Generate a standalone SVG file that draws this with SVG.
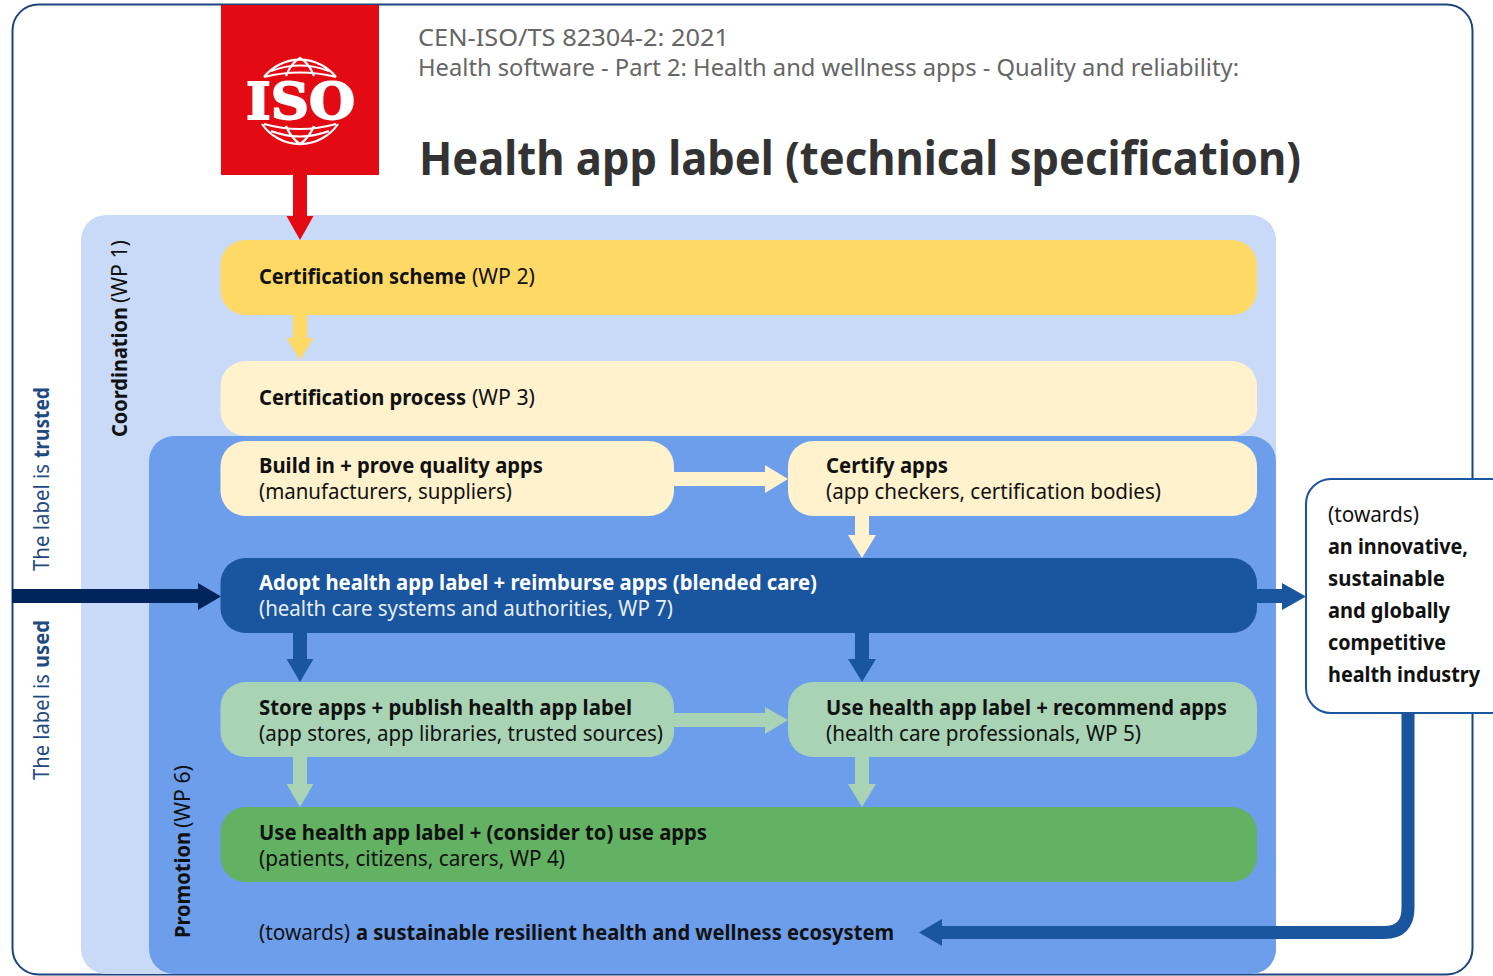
<svg xmlns="http://www.w3.org/2000/svg" width="1493" height="976" viewBox="0 0 1493 976">
<style>
text{font-family:"Noto Sans","Liberation Sans",sans-serif;font-size:21px;fill:#111}
.b{font-weight:700;font-size:20.500px}
.w{fill:#fff}
.w2{fill:#e8eef8}
.g{fill:#666;font-size:23.500px}
.s{fill:#1f4a80}
</style>
<rect width="1493" height="976" fill="#fff"/>
<rect id="frame" x="12.500" y="4.500" width="1460" height="970" rx="26" fill="#fff" stroke="#1c4480" stroke-width="2"/>
<g id="wp1-panel"><rect x="81" y="215" width="1195" height="759" rx="25" fill="#c9daf8"/>
<text transform="translate(127 437) rotate(-90)"><tspan class="b" x="0" y="0" textLength="130" lengthAdjust="spacingAndGlyphs">Coordination</tspan><tspan x="134" y="0" textLength="63" lengthAdjust="spacingAndGlyphs">(WP 1)</tspan></text></g>
<g id="wp6-panel"><rect x="149" y="436" width="1127" height="538" rx="25" fill="#6d9eeb"/>
<text transform="translate(190 938) rotate(-90)"><tspan class="b" x="0" y="0" textLength="106" lengthAdjust="spacingAndGlyphs">Promotion</tspan><tspan x="110" y="0" textLength="63" lengthAdjust="spacingAndGlyphs">(WP 6)</tspan></text></g>
<g id="connectors">
<polygon fill="#e30a13" points="293,175 307,175 307,216 313.500,216 300,240 286.500,216 293,216"/>
<polygon fill="#ffd966" points="293,315 307,315 307,338 313.500,338 300,360 286.500,338 293,338"/>
<polygon fill="#fff2cc" points="674,472 765,472 765,465 788,479 765,493 765,486 674,486"/>
<polygon fill="#fff2cc" points="855,516 869,516 869,535 876,535 862,558 848,535 855,535"/>
<polygon fill="#00245c" points="12,589 198,589 198,583 221,596.500 198,610 198,603 12,603"/>
<polygon fill="#1a559f" points="293,633 307,633 307,659 313.500,659 300,682 286.500,659 293,659"/>
<polygon fill="#1a559f" points="855,633 869,633 869,659 876,659 862,682 848,659 855,659"/>
<polygon fill="#1a559f" points="1257,589 1282,589 1282,583 1306,596.500 1282,610 1282,603 1257,603"/>
<polygon fill="#a8d4b5" points="674,713 765,713 765,707 788,720 765,734 765,727 674,727"/>
<polygon fill="#a8d4b5" points="293,757 307,757 307,784 313.500,784 300,807 286.500,784 293,784"/>
<polygon fill="#a8d4b5" points="855,757 869,757 869,784 876,784 862,807 848,784 855,784"/>
<path d="M1408 713V908Q1408 932.500 1384 932.500H940" fill="none" stroke="#1a559f" stroke-width="13"/>
<polygon fill="#1a559f" points="919,932.500 942,919 942,946"/>
</g>
<g id="iso-logo"><rect x="221" y="5" width="158" height="170" fill="#e30a13"/>
<g fill="none" stroke="#fff" stroke-width="2.200">
<path d="M264 77A46 46 0 0 1 336 77M271 71Q300 60 329 71M286 76Q291 63 300 58Q309 63 314 76M262 124A46 46 0 0 0 338 124M271 131Q300 142 329 131M286 126Q291 138 300 144Q309 138 314 126M264 77Q300 68 336 77M264 124Q300 134 336 124" /></g>
<text class="w" x="246" y="119" stroke="#fff" stroke-width="1.800" style="font-family:'DejaVu Serif',serif;font-size:50px;font-weight:700" textLength="109" lengthAdjust="spacingAndGlyphs">ISO</text></g>
<g id="heading">
<text class="g"><tspan x="418" y="45.500" textLength="311" lengthAdjust="spacingAndGlyphs">CEN-ISO/TS 82304-2: 2021</tspan><tspan x="418" y="75.500" textLength="821" lengthAdjust="spacingAndGlyphs">Health software - Part 2: Health and wellness apps - Quality and reliability:</tspan></text>
<text x="419" y="175" style="font-size:46px;font-weight:700;fill:#333" textLength="882" lengthAdjust="spacingAndGlyphs">Health app label (technical specification)</text>
</g>
<g id="scheme"><rect x="220.500" y="240" width="1036.500" height="75" rx="25" fill="#ffd966"/>
<text y="284"><tspan class="b" x="259" textLength="207" lengthAdjust="spacingAndGlyphs">Certification scheme</tspan><tspan x="472" textLength="63" lengthAdjust="spacingAndGlyphs">(WP 2)</tspan></text></g>
<g id="process"><rect x="220.500" y="361" width="1036.500" height="75" rx="25" fill="#fff2cc"/>
<text y="405"><tspan class="b" x="259" textLength="207" lengthAdjust="spacingAndGlyphs">Certification process</tspan><tspan x="472" textLength="63" lengthAdjust="spacingAndGlyphs">(WP 3)</tspan></text></g>
<g id="build"><rect x="220.500" y="441" width="453.500" height="75" rx="25" fill="#fff2cc"/>
<text><tspan class="b" x="259" y="472.500" textLength="284" lengthAdjust="spacingAndGlyphs">Build in + prove quality apps</tspan><tspan x="259" y="498.500" textLength="253" lengthAdjust="spacingAndGlyphs">(manufacturers, suppliers)</tspan></text></g>
<g id="certify"><rect x="788" y="441" width="469" height="75" rx="25" fill="#fff2cc"/>
<text><tspan class="b" x="826" y="472.500" textLength="122" lengthAdjust="spacingAndGlyphs">Certify apps</tspan><tspan x="826" y="498.500" textLength="335" lengthAdjust="spacingAndGlyphs">(app checkers, certification bodies)</tspan></text></g>
<g id="adopt"><rect x="220.500" y="558" width="1036.500" height="75" rx="25" fill="#1a559f"/>
<text><tspan class="b w" x="259" y="590" textLength="558" lengthAdjust="spacingAndGlyphs">Adopt health app label + reimburse apps (blended care)</tspan><tspan class="w2" x="259" y="616" textLength="414" lengthAdjust="spacingAndGlyphs">(health care systems and authorities, WP 7)</tspan></text></g>
<g id="store"><rect x="220.500" y="682" width="453.500" height="75" rx="25" fill="#a8d4b5"/>
<text><tspan class="b" x="259" y="715" textLength="373" lengthAdjust="spacingAndGlyphs">Store apps + publish health app label</tspan><tspan x="259" y="741" textLength="404" lengthAdjust="spacingAndGlyphs">(app stores, app libraries, trusted sources)</tspan></text></g>
<g id="recommend"><rect x="788" y="682" width="469" height="75" rx="25" fill="#a8d4b5"/>
<text><tspan class="b" x="826" y="715" textLength="401" lengthAdjust="spacingAndGlyphs">Use health app label + recommend apps</tspan><tspan x="826" y="741" textLength="315" lengthAdjust="spacingAndGlyphs">(health care professionals, WP 5)</tspan></text></g>
<g id="use"><rect x="220.500" y="807" width="1036.500" height="75" rx="25" fill="#63b263"/>
<text><tspan class="b" x="259" y="839.500" textLength="448" lengthAdjust="spacingAndGlyphs">Use health app label + (consider to) use apps</tspan><tspan x="259" y="865.500" textLength="306" lengthAdjust="spacingAndGlyphs">(patients, citizens, carers, WP 4)</tspan></text></g>
<g id="ecosystem"><text y="940"><tspan x="259" textLength="91" lengthAdjust="spacingAndGlyphs">(towards)</tspan><tspan class="b" x="356" textLength="538" lengthAdjust="spacingAndGlyphs">a sustainable resilient health and wellness ecosystem</tspan></text></g>
<g id="industry"><rect x="1306" y="479" width="210" height="234" rx="25" fill="#fff" stroke="#1a559f" stroke-width="2"/>
<text><tspan x="1328" y="522" textLength="91" lengthAdjust="spacingAndGlyphs">(towards)</tspan><tspan class="b" x="1328" y="554" textLength="140" lengthAdjust="spacingAndGlyphs">an innovative,</tspan><tspan class="b" x="1328" y="586" textLength="117" lengthAdjust="spacingAndGlyphs">sustainable</tspan><tspan class="b" x="1328" y="618" textLength="122" lengthAdjust="spacingAndGlyphs">and globally</tspan><tspan class="b" x="1328" y="650" textLength="118" lengthAdjust="spacingAndGlyphs">competitive</tspan><tspan class="b" x="1328" y="682" textLength="152" lengthAdjust="spacingAndGlyphs">health industry</tspan></text></g>
<g id="side-labels">
<text class="s" transform="translate(49 571) rotate(-90)"><tspan x="0" y="0" textLength="107" lengthAdjust="spacingAndGlyphs">The label is</tspan><tspan class="b s" x="113" y="0" textLength="71" lengthAdjust="spacingAndGlyphs">trusted</tspan></text>
<text class="s" transform="translate(49 780) rotate(-90)"><tspan x="0" y="0" textLength="106" lengthAdjust="spacingAndGlyphs">The label is</tspan><tspan class="b s" x="112" y="0" textLength="48" lengthAdjust="spacingAndGlyphs">used</tspan></text>
</g>
</svg>
